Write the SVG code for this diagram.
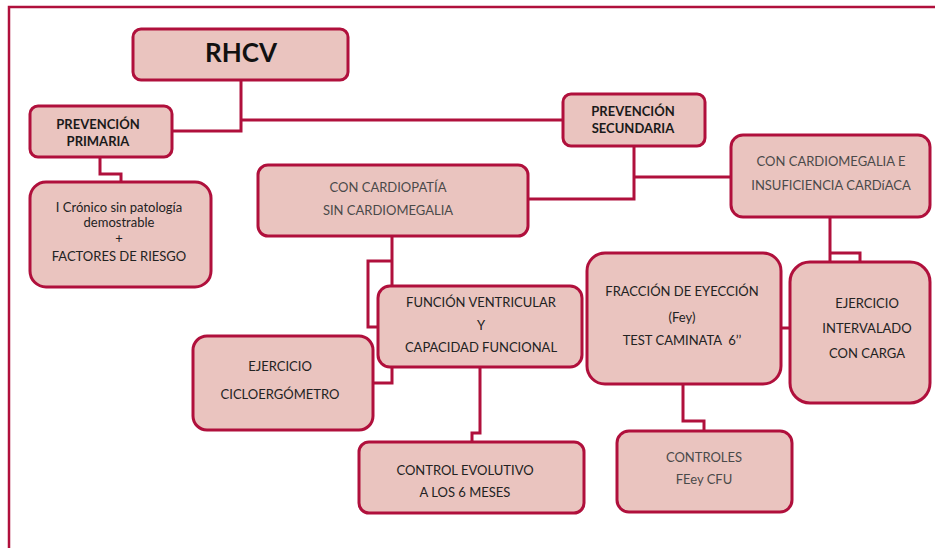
<svg xmlns="http://www.w3.org/2000/svg" width="935" height="548" viewBox="0 0 935 548">
<style>
.box{fill:#EAC4BF;stroke:#B0103C;stroke-width:3}
.conn path{fill:none;stroke:#B0103C;stroke-width:3}
.frame{fill:none;stroke:#B0103C;stroke-width:2.5}
text{font-family:Lato,"Liberation Sans",Arial,sans-serif;text-anchor:middle}
.t{font-size:13px;fill:#222}
.g{font-size:13px;fill:#4a4a4a}
.b{font-size:13px;font-weight:bold;fill:#1a1a1a}
</style>
<rect width="935" height="548" fill="#fff"/>
<path class="frame" d="M9,548 V7 H935"/>
<g id="connectors" class="conn">
<path d="M241,80 V131 H172"/>
<path d="M241,120 H563"/>
<path d="M100,157 V174 H121 V182"/>
<path d="M634,146 V199 H528"/>
<path d="M634,177 H731"/>
<path d="M830,217 V262 M830,253 H860 V262"/>
<path d="M392,236 V286 M392,261 H368 V327 H378"/>
<path d="M392,367 V383 H373"/>
<path d="M480,367 V433 H472 V442"/>
<path d="M781,328 H790"/>
<path d="M683,384 V421 H704 V431"/>
</g>
<g id="rhcv"><rect class="box" x="133" y="29" width="215" height="51" rx="8"/><text x="241" y="62" style="font-size:26px;font-weight:bold;fill:#111">RHCV</text></g>
<g id="prev-primaria"><rect class="box" x="30" y="106" width="142" height="51" rx="8"/><text class="b" x="98" y="129">PREVENCIÓN</text><text class="b" x="98" y="146">PRIMARIA</text></g>
<g id="cronico"><rect class="box" x="30" y="182" width="181" height="105" rx="16"/><text class="t" x="119" y="212">I Crónico sin patología</text><text class="t" x="119" y="227">demostrable</text><text class="t" x="119" y="243">+</text><text class="t" x="119" y="261">FACTORES DE RIESGO</text></g>
<g id="prev-secundaria"><rect class="box" x="563" y="94" width="142" height="52" rx="8"/><text class="b" x="633" y="116">PREVENCIÓN</text><text class="b" x="633" y="133">SECUNDARIA</text></g>
<g id="cardiopatia"><rect class="box" x="258" y="165" width="270" height="71" rx="10"/><text class="g" x="388" y="192">CON CARDIOPATÍA</text><text class="g" x="388" y="215">SIN CARDIOMEGALIA</text></g>
<g id="cardiomegalia"><rect class="box" x="731" y="135" width="199" height="82" rx="12"/><text class="g" x="831" y="166">CON CARDIOMEGALIA E</text><text class="g" x="831" y="190">INSUFICIENCIA CARDíACA</text></g>
<g id="funcion"><rect class="box" x="378" y="286" width="204" height="81" rx="12"/><text class="t" x="481" y="307">FUNCIÓN VENTRICULAR</text><text class="t" x="481" y="330">Y</text><text class="t" x="481" y="352">CAPACIDAD FUNCIONAL</text></g>
<g id="ciclo"><rect class="box" x="193" y="336" width="180" height="94" rx="14"/><text class="t" x="280" y="371">EJERCICIO</text><text class="t" x="280" y="399">CICLOERGÓMETRO</text></g>
<g id="fraccion"><rect class="box" x="587" y="253" width="194" height="131" rx="18"/><text class="t" x="682" y="296">FRACCIÓN DE EYECCIÓN</text><text class="t" x="682" y="322">(Fey)</text><text class="t" x="682" y="345">TEST CAMINATA &#160;6’’</text></g>
<g id="intervalado"><rect class="box" x="790" y="262" width="140" height="141" rx="20"/><text class="t" x="867" y="308">EJERCICIO</text><text class="t" x="867" y="333">INTERVALADO</text><text class="t" x="867" y="358">CON CARGA</text></g>
<g id="control-evolutivo"><rect class="box" x="359" y="442" width="225" height="71" rx="10"/><text class="t" x="465" y="475">CONTROL EVOLUTIVO</text><text class="t" x="465" y="497">A LOS 6 MESES</text></g>
<g id="controles"><rect class="box" x="617" y="431" width="175" height="81" rx="12"/><text class="g" x="704" y="462">CONTROLES</text><text class="g" x="704" y="484">FEey CFU</text></g>
</svg>
